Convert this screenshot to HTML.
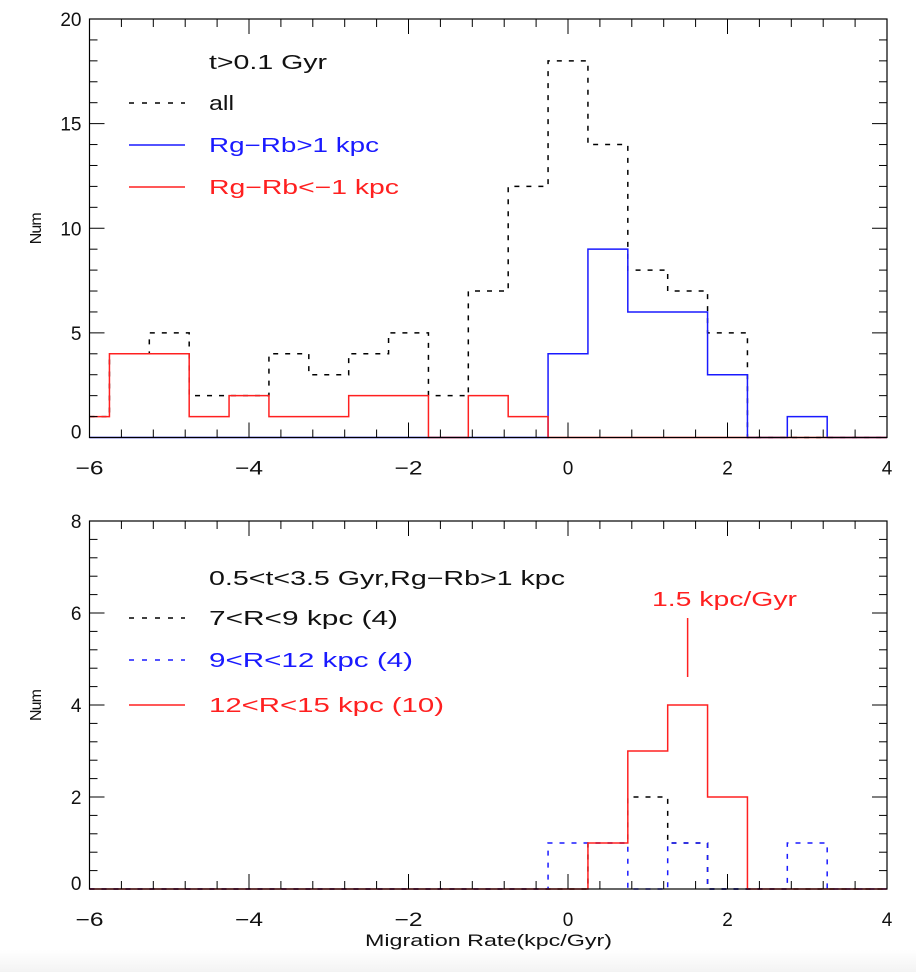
<!DOCTYPE html>
<html><head><meta charset="utf-8"><style>
body{margin:0;background:#fff;}
svg{display:block;font-family:"Liberation Sans","DejaVu Sans",sans-serif;}
</style></head><body>
<svg id="chart" width="916" height="972" viewBox="0 0 916 972">
<defs><linearGradient id="bg" x1="0" y1="0" x2="0" y2="1"><stop offset="0" stop-color="#fff"/><stop offset="1" stop-color="#f3f3f3"/></linearGradient></defs>
<rect x="0" y="950" width="916" height="22" fill="url(#bg)"/>
</svg>
<script>
// bin centres (kpc/Gyr)
const centers = [-6,-5.5,-5,-4.5,-4,-3.5,-3,-2.5,-2,-1.5,-1,-0.5,0,0.5,1,1.5,2,2.5,3,3.5,4];
// top panel
const topAll   = [1,4,5,2,2,4,3,4,5,2,7,12,18,14,8,7,5,0,0,0,0];
const topBlue  = [0,0,0,0,0,0,0,0,0,0,0,0,4,9,6,6,3,0,1,0,0];
const topRed   = [1,4,4,1,2,1,1,2,2,0,2,1,0,0,0,0,0,0,0,0,0];
// bottom panel
const botBlack = [0,0,0,0,0,0,0,0,0,0,0,0,0,1,2,1,0,0,0,0,0];
const botBlue  = [0,0,0,0,0,0,0,0,0,0,0,0,1,1,0,1,0,0,1,0,0];
const botRed   = [0,0,0,0,0,0,0,0,0,0,0,0,0,1,3,4,2,0,0,0,0];
const xTicks = [-6,-4,-2,0,2,4];
const topYTicks = [0,5,10,15,20];
const botYTicks = [0,2,4,6,8];
const markerValue = 1.5;

const svg = document.getElementById('chart');
const NS = 'http://www.w3.org/2000/svg';
function mk(tag, attrs, parent){const e=document.createElementNS(NS,tag);for(const k in attrs)e.setAttribute(k,attrs[k]);(parent||svg).appendChild(e);return e;}

const XL=89.5, XR=887, XMIN=-6, XMAX=4;
const xs = v => XL + (v-XMIN)/(XMAX-XMIN)*(XR-XL);

function panel(name, top, bottom, ymax, yTicks, yMinorStep, series){
  const ys = v => bottom - v/ymax*(bottom-top);
  const g = mk('g',{});
  
  
  series.forEach(s=>{
    let d = 'M'+xs(XMIN)+','+ys(s.vals[0]);
    for(let i=0;i<centers.length;i++){
      const right = Math.min(centers[i]+0.25, XMAX);
      d += ' H'+xs(right);
      if(i+1<centers.length && centers[i]+0.25<XMAX) d += ' V'+ys(s.vals[i+1]);
    }
    const p = mk('path',{d:d,fill:'none',stroke:s.color,'stroke-width':1.5},g);
    if(s.dash) p.setAttribute('stroke-dasharray',s.dash);
    
    
  });
  const fr = mk('rect',{x:XL,y:top,width:XR-XL,height:bottom-top,fill:'none',stroke:'#000','stroke-width':1.2},g);
  
  
  for(let v=XMIN; v<=XMAX+1e-6; v+=0.4){
    const major = Math.abs(v/2-Math.round(v/2))<1e-6;
    const L = major?15:8;
    mk('line',{x1:xs(v),x2:xs(v),y1:bottom,y2:bottom-L,stroke:'#000','stroke-width':1},g);
    mk('line',{x1:xs(v),x2:xs(v),y1:top,y2:top+L,stroke:'#000','stroke-width':1},g);
  }
  xTicks.forEach(v=>{
    const t = mk('text',{x:xs(v),y:bottom+37,'font-size':19,'text-anchor':'middle',fill:'#111'},g);
    t.textContent = v<0 ? '\u2212'+Math.abs(v) : String(v);
    if(v<0){ t.setAttribute('textLength','28'); t.setAttribute('lengthAdjust','spacingAndGlyphs'); }
    
    
  });
  for(let v=0; v<=ymax+1e-6; v+=yMinorStep){
    const major = yTicks.some(t=>Math.abs(t-v)<1e-6);
    const L = major?15:8;
    mk('line',{x1:XL,x2:XL+L,y1:ys(v),y2:ys(v),stroke:'#000','stroke-width':1},g);
    mk('line',{x1:XR,x2:XR-L,y1:ys(v),y2:ys(v),stroke:'#000','stroke-width':1},g);
  }
  yTicks.forEach(v=>{
    const t = mk('text',{x:XL-8,y:ys(v)+(v===0?1:7),'font-size':19,'text-anchor':'end',fill:'#111'},g);
    t.textContent = String(v);
    
    
  });
  const yt = mk('text',{x:0,y:0,'font-size':16,'text-anchor':'middle',fill:'#111',transform:'translate(41,'+((top+bottom)/2)+') rotate(-90)'},g);
  yt.textContent='Num';
  yt.setAttribute('textLength','32');
  
  
  return ys;
}

panel('top',19,437.5,20,topYTicks,1,[
  {name:'all-histogram',vals:topAll,color:'#000',dash:'5,7'},
  {name:'rg-rb-gt-1-histogram',vals:topBlue,color:'#1a1aff'},
  {name:'rg-rb-lt-minus1-histogram',vals:topRed,color:'#ff2020'}
]);
panel('bottom',521,889,8,botYTicks,0.4,[
  {name:'r7-9-histogram',vals:botBlack,color:'#000',dash:'5,7'},
  {name:'r9-12-histogram',vals:botBlue,color:'#1a1aff',dash:'5,7'},
  {name:'r12-15-histogram',vals:botRed,color:'#ff2020'}
]);
const ml = mk('line',{x1:xs(markerValue),x2:xs(markerValue),y1:618,y2:677,stroke:'#ff2020','stroke-width':1.5});


const mt = mk('text',{x:652,y:606,'font-size':20,fill:'#ff2020',textLength:145,lengthAdjust:'spacingAndGlyphs'});
mt.textContent='1.5 kpc/Gyr';



function legendText(txt,y,color,nm,len){
  const t = mk('text',{x:209,y:y+7,'font-size':20,fill:color,textLength:len,lengthAdjust:'spacingAndGlyphs'});
  t.textContent=txt;
  
  
}
function legendLine(y,color,dash,nm){
  const l = mk('line',{x1:129,x2:185,y1:y,y2:y,stroke:color,'stroke-width':1.5});
  if(dash) l.setAttribute('stroke-dasharray',dash);
  
  
}
legendText('t>0.1 Gyr',62,'#111','top-legend-title',118);
legendLine(103,'#000','5,8','legend-all-line');
legendText('all',103,'#111','legend-all-label',25);
legendLine(145,'#1a1aff',null,'legend-rg-rb-gt-1-line');
legendText('Rg\u2212Rb>1 kpc',145,'#1a1aff','legend-rg-rb-gt-1-label',170);
legendLine(187,'#ff2020',null,'legend-rg-rb-lt-minus1-line');
legendText('Rg\u2212Rb<\u22121 kpc',187,'#ff2020','legend-rg-rb-lt-minus1-label',190);

legendText('0.5<t<3.5 Gyr,Rg\u2212Rb>1 kpc',578,'#111','bottom-legend-title',356);
legendLine(618,'#000','5,8','legend-r7-9-line');
legendText('7<R<9 kpc (4)',618,'#111','legend-r7-9-label',189);
legendLine(660,'#1a1aff','5,8','legend-r9-12-line');
legendText('9<R<12 kpc (4)',660,'#1a1aff','legend-r9-12-label',204);
legendLine(705,'#ff2020',null,'legend-r12-15-line');
legendText('12<R<15 kpc (10)',705,'#ff2020','legend-r12-15-label',235);

const xt = mk('text',{x:365,y:946,'font-size':17,fill:'#111',textLength:247,lengthAdjust:'spacingAndGlyphs'});
xt.textContent='Migration Rate(kpc/Gyr)';


</script>
</body></html>
